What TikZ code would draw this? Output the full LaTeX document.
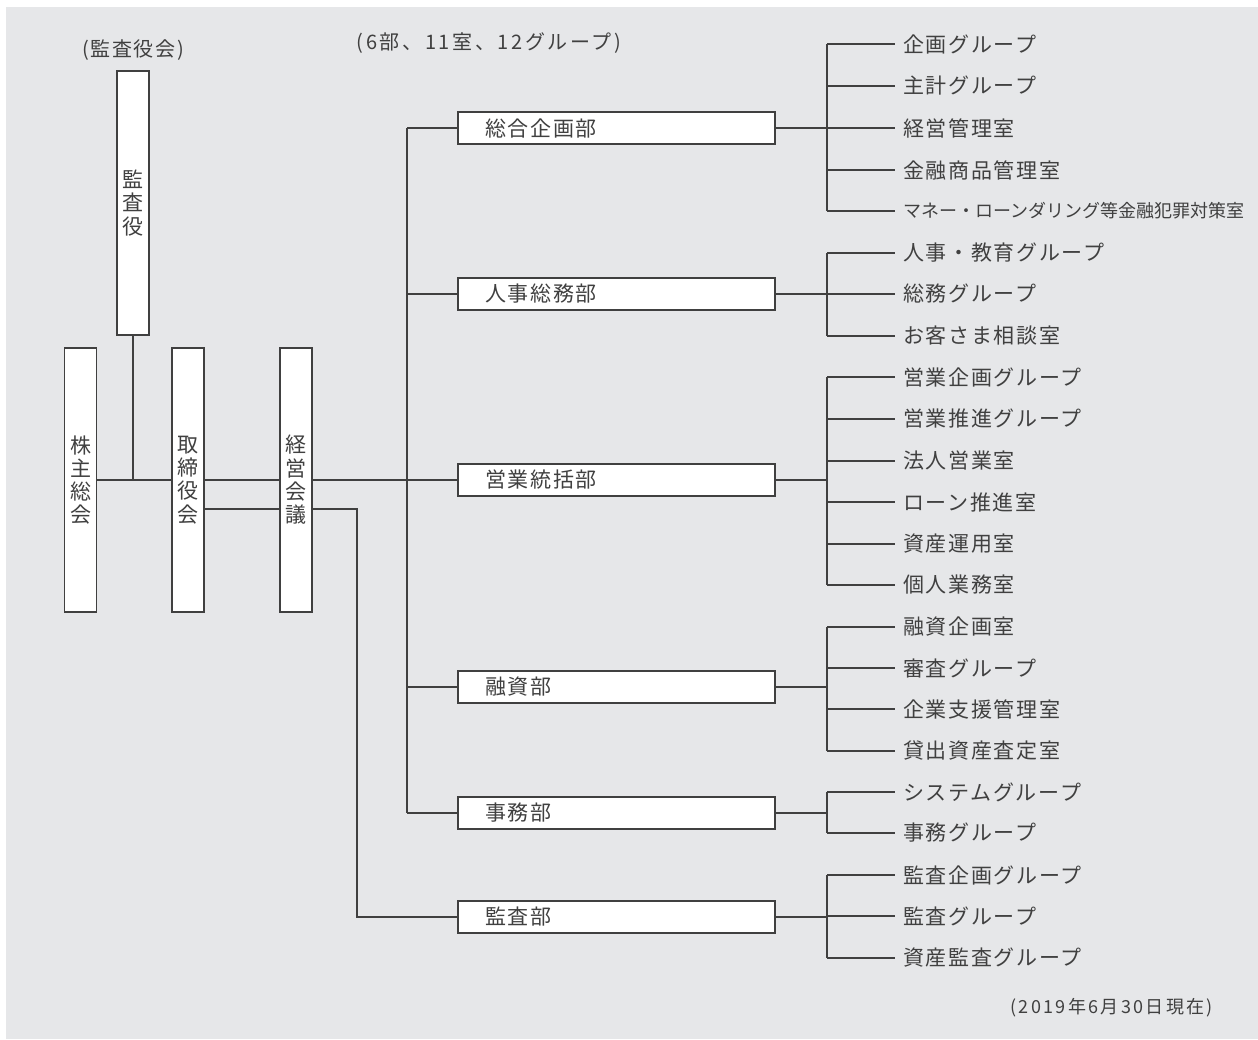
\documentclass[tikz,border=0pt]{standalone}
\usepackage{fontspec}
\newfontfamily\jpfont[LetterSpace=8]{Noto Sans CJK JP}
\newfontfamily\jpwide[LetterSpace=13]{Noto Sans CJK JP}
\newfontfamily\jpnarrow{Noto Sans CJK JP}
\usetikzlibrary{positioning}
\definecolor{bggray}{HTML}{E6E7E9}
\definecolor{inkgray}{HTML}{404040}

\tikzset{
  orgline/.style={draw=inkgray, line width=1.3pt},
  vbox/.style={draw=inkgray, line width=1.9pt, fill=white, minimum width=32pt, minimum height=264pt, inner sep=0pt, align=center, text=inkgray, font={\jpfont\fontsize{21}{23.3}\selectfont}},
  deptbox/.style={draw=inkgray, line width=1.9pt, fill=white, minimum height=32pt, inner ysep=0pt, inner xsep=27pt, text width=263pt, align=left, text=inkgray, font={\jpfont\fontsize{21}{24}\selectfont}},
  item/.style={anchor=west, inner xsep=8pt, inner ysep=0pt, text=inkgray, font={\jpfont\fontsize{21}{24}\selectfont}},
  note/.style={inner sep=0pt, text=inkgray, font={\jpfont\fontsize{20}{24}\selectfont}},
}

\begin{document}
\begin{tikzpicture}[x=1pt, y=-1pt]
  \useasboundingbox (0,0) rectangle (1258,1039);
  \fill[bggray] (6,7) rectangle (1258,1039);

  % bus positions
  \coordinate (mainbus) at (407,0);
  \coordinate (auditbus) at (357,0);
  \coordinate (rbus) at (827,0);
  \coordinate (auditrow) at (0,509);

  % notes
  \node[note] (kansakai) at (133,50) {(監査役会)};
  \node[note, font={\jpwide\fontsize{20}{24}\selectfont}] (count) at (489,43) {(6部、11室、12グループ)};
  \node[note, anchor=east, font={\jpwide\fontsize{18}{22}\selectfont}] (asof) at (1213,1008) {(2019年6月30日現在)};

  % top level bodies
  \node[vbox] (kansayaku) at (133,203) {監\\査\\役};
  \node[vbox] (kabunushi) at (80.5,480) {株\\主\\総\\会};
  \node[vbox] (torishimari) at (188,480) {取\\締\\役\\会};
  \node[vbox] (keiei) at (296,480) {経\\営\\会\\議};

  % departments
  \node[deptbox] (sogo) at (616.5,128) {総合企画部};
  \node[deptbox] (jinji) at (616.5,294) {人事総務部};
  \node[deptbox] (eigyo) at (616.5,480) {営業統括部};
  \node[deptbox] (yushi) at (616.5,687) {融資部};
  \node[deptbox] (jimu) at (616.5,813) {事務部};
  \node[deptbox] (kansa) at (616.5,917) {監査部};

  % groups and offices
  \node[item] (sogo-1) at (895,44) {企画グループ};
  \node[item] (sogo-2) at (895,86) {主計グループ};
  \node[item] (sogo-3) at (895,128) {経営管理室};
  \node[item] (sogo-4) at (895,170) {金融商品管理室};
  \node[item, font={\jpnarrow\fontsize{18}{22}\selectfont}] (sogo-5) at (895,211) {マネー・ローンダリング等金融犯罪対策室};

  \node[item] (jinji-1) at (895,253) {人事・教育グループ};
  \node[item] (jinji-2) at (895,294) {総務グループ};
  \node[item] (jinji-3) at (895,336) {お客さま相談室};

  \node[item] (eigyo-1) at (895,377) {営業企画グループ};
  \node[item] (eigyo-2) at (895,419) {営業推進グループ};
  \node[item] (eigyo-3) at (895,461) {法人営業室};
  \node[item] (eigyo-4) at (895,502) {ローン推進室};
  \node[item] (eigyo-5) at (895,544) {資産運用室};
  \node[item] (eigyo-6) at (895,585) {個人業務室};

  \node[item] (yushi-1) at (895,627) {融資企画室};
  \node[item] (yushi-2) at (895,668) {審査グループ};
  \node[item] (yushi-3) at (895,709) {企業支援管理室};
  \node[item] (yushi-4) at (895,751) {貸出資産査定室};

  \node[item] (jimu-1) at (895,792) {システムグループ};
  \node[item] (jimu-2) at (895,833) {事務グループ};

  \node[item] (kansa-1) at (895,875) {監査企画グループ};
  \node[item] (kansa-2) at (895,916) {監査グループ};
  \node[item] (kansa-3) at (895,958) {資産監査グループ};

  % left side connectors
  \path (kabunushi) edge[orgline] (torishimari);
  \path (torishimari) edge[orgline] (keiei);
  \draw[orgline] (kansayaku.south) -- (kansayaku.south |- kabunushi.east);
  \draw[orgline] (auditrow -| torishimari.east) -- (auditrow -| keiei.west);
  \draw[orgline] (auditrow -| keiei.east) -- (auditrow -| auditbus) |- (kansa.west);

  % main bus to departments
  \draw[orgline] (keiei.east) -- (keiei.east -| mainbus);
  \draw[orgline] (sogo.west -| mainbus) -- (jimu.west -| mainbus);
  \foreach \d in {sogo, jinji, eigyo, yushi, jimu}
    \draw[orgline] (\d.west -| mainbus) -- (\d.west);

  % departments to groups
  \foreach \d/\n in {sogo/5, jinji/3, eigyo/6, yushi/4, jimu/2, kansa/3} {
    \draw[orgline] (\d.east) -- (\d.east -| rbus);
    \draw[orgline] (\d-1.west -| rbus) -- (\d-\n.west -| rbus);
    \foreach \i in {1,...,\n}
      \draw[orgline] (\d-\i.west -| rbus) -- (\d-\i.west);
  }
\end{tikzpicture}
\end{document}
